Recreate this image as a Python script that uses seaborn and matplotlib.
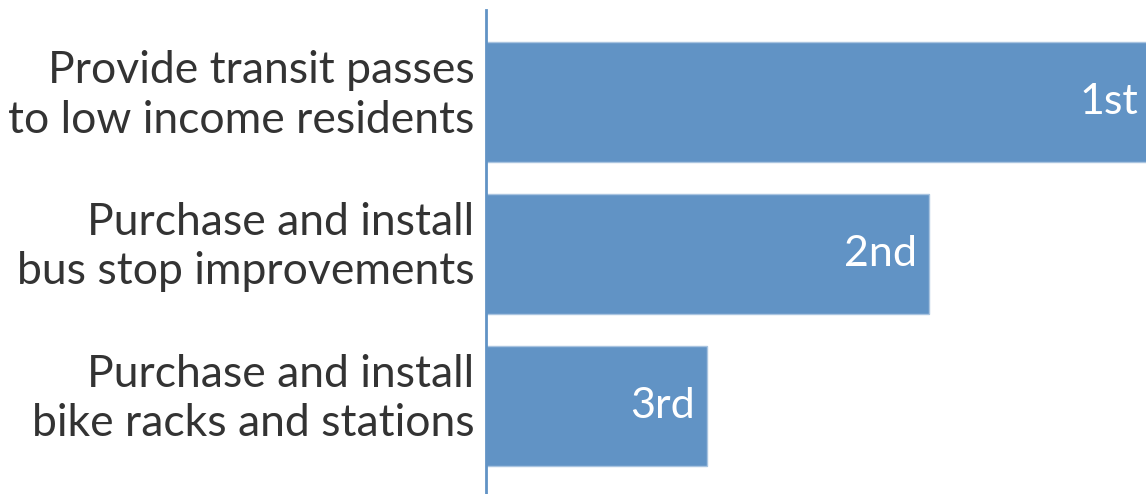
import matplotlib
matplotlib.use("Agg")
import matplotlib.pyplot as plt
import matplotlib.transforms as mtransforms
import seaborn as sns
import pandas as pd

# Ranked priorities (score 3 = top rank)
categories = [
    "Provide transit passes\nto low income residents",
    "Purchase and install\nbus stop improvements",
    "Purchase and install\nbike racks and stations",
]
scores = [3, 2, 1]
rank_labels = ["1st", "2nd", "3rd"]

BAR_COLOR = "#6193c5"
TEXT_COLOR = "#333333"

sns.set_theme(style="white")
plt.rcParams["font.family"] = ["Lato", "DejaVu Sans"]

W, H = 1146, 494
fig = plt.figure(figsize=(W / 100, H / 100), dpi=100)
left_px, right_px, top_px = 485.5, 1150.0, 10.0
ax = fig.add_axes([left_px / W, 0.0, (right_px - left_px) / W, (H - top_px) / H])

df = pd.DataFrame({"category": categories, "score": scores})
sns.barplot(data=df, y="category", x="score", orient="h", color=BAR_COLOR,
            saturation=1, width=0.79, edgecolor="#a9c4e0", linewidth=1, ax=ax)

ax.set_xlim(0, 3)
ax.set_ylim(2.58, -0.605)
ax.set_xlabel("")
ax.set_ylabel("")
ax.set_xticks([])

for s in ["top", "right", "bottom"]:
    ax.spines[s].set_visible(False)
ax.spines["left"].set_color(BAR_COLOR)
ax.spines["left"].set_linewidth(2)

ax.tick_params(axis="y", length=0, pad=8)
raise_labels = mtransforms.ScaledTranslation(0, 15 / 100, fig.dpi_scale_trans)
for lbl in ax.get_yticklabels():
    lbl.set_fontsize(32)
    lbl.set_color(TEXT_COLOR)
    lbl.set_linespacing(1.26)
    lbl.set_horizontalalignment("right")
    lbl.set_multialignment("right")
    lbl.set_transform(lbl.get_transform() + raise_labels)

for i, (s, r) in enumerate(zip(scores, rank_labels)):
    ax.annotate(r, xy=(s, i), xytext=(-12, 0), textcoords="offset pixels",
                ha="right", va="center", color="white", fontsize=31)

fig.savefig("out.png", dpi=100, facecolor="white")
